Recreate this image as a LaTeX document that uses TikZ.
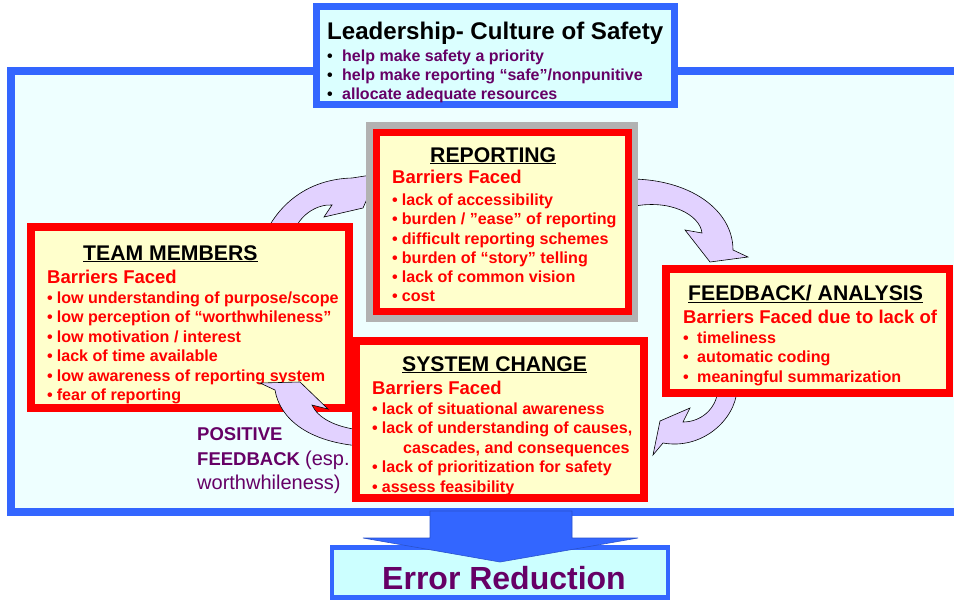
\documentclass[tikz,border=0pt]{standalone}
\usepackage{fontspec}
\setmainfont{Liberation Sans}
\definecolor{frameblue}{RGB}{51,102,255}
\definecolor{pale}{RGB}{238,255,255}
\definecolor{palecyan}{RGB}{219,255,255}
\definecolor{errfill}{RGB}{204,255,255}
\definecolor{note}{RGB}{255,255,204}
\definecolor{plum}{RGB}{102,0,102}
\definecolor{lilac}{RGB}{226,210,255}
\definecolor{shade}{RGB}{178,178,178}
\newcommand{\itm}{\textbullet\hspace{4pt}}
\newcommand{\barr}{\fontsize{18.5}{19.5}\selectfont}

\tikzset{
  barrier/.style={draw=red, line width=7.5pt, fill=note, inner sep=0pt},
  bluebox/.style={draw=frameblue, line width=7pt, fill=palecyan, inner sep=0pt},
  boxtitle/.style={anchor=base west, inner sep=0pt, font=\fontsize{21.2}{24}\selectfont\bfseries},
  boxlist/.style={anchor=north west, inner sep=0pt, align=left, text=red,
    font=\fontsize{16.1}{19.5}\selectfont\bfseries},
  cyc/.style={fill=lilac, draw=black, line width=0.6pt, line join=miter}
}

\begin{document}
\begin{tikzpicture}[x=1pt,y=-1pt]
\useasboundingbox (0,0) rectangle (954,600);

% big frame
\draw[draw=frameblue, line width=8pt, fill=pale] (11,71) rectangle (966,512);

% leadership
\node[bluebox, minimum width=358pt, minimum height=98pt] (lead) at (495.5,55.5) {};
\node[anchor=base west, inner sep=0pt, font=\fontsize{24.1}{28}\selectfont\bfseries] (leadtitle) at (327,39) {Leadership- Culture of Safety};
\node[boxlist, text=plum, font=\fontsize{16}{19}\selectfont\bfseries] (leadlist) at (327,49.3)
  {\textcolor{black}{\textbullet}\hspace{9.4pt}help make safety a priority\\
   \textcolor{black}{\textbullet}\hspace{9.4pt}help make reporting “safe”/nonpunitive\\
   \textcolor{black}{\textbullet}\hspace{9.4pt}allocate adequate resources};

% loop arrows under the boxes
\draw[cyc] (266,232) .. controls (282,200) and (312,179) .. (352,178) -- (378,174) -- (363,208)
  -- (324,217) -- (332,205) .. controls (318,204) and (300,214) .. (294,232) -- cycle;
\draw[cyc] (630,179) .. controls (690,179) and (733,210) .. (733,250) -- (748,257) -- (710,262)
  -- (685,230) -- (702,233) .. controls (700,215) and (670,198) .. (630,207) -- cycle;
\draw[cyc] (737,390) .. controls (735,420) and (702,450) .. (663,443) -- (653,455) -- (660,421)
  -- (690,408) -- (683,422) .. controls (700,422) and (716,410) .. (718,390) -- cycle;

% team members
\node[barrier, minimum width=318pt, minimum height=181pt] (team) at (190,317.5) {};
\node[boxtitle] (teamtitle) at (83,260) {\underline{TEAM MEMBERS}};
\node[boxlist] (teamlist) at (47,269.5)
  {{\barr Barriers Faced}\\[0.5pt]
   \itm low understanding of purpose/scope\\
   \itm low perception of “worthwhileness”\\
   \itm low motivation / interest\\
   \itm lack of time available\\
   \itm low awareness of reporting system\\
   \itm fear of reporting};

% reporting
\node[fill=shade, inner sep=0pt, minimum width=272pt, minimum height=200pt] (repshade) at (502,222) {};
\node[barrier, line width=7pt, minimum width=252pt, minimum height=179pt] (rep) at (502.5,221.8) {};
\node[boxtitle] (reptitle) at (430,162) {\underline{REPORTING}};
\node[boxlist, font=\fontsize{16.1}{19.2}\selectfont\bfseries] (replist) at (392,170)
  {{\barr Barriers Faced}\\[2.8pt]
   \itm lack of accessibility\\
   \itm burden / ”ease” of reporting\\
   \itm difficult reporting schemes\\
   \itm burden of “story” telling\\
   \itm lack of common vision\\
   \itm cost};

% feedback / analysis
\node[barrier, minimum width=283.5pt, minimum height=124pt] (fb) at (807.7,331) {};
\node[boxtitle] (fbtitle) at (688,300) {\underline{FEEDBACK/ ANALYSIS}};
\node[boxlist] (fblist) at (683,309.5)
  {{\barr Barriers Faced due to lack of}\\[0.5pt]
   \textbullet\hspace{8.4pt}timeliness\\
   \textbullet\hspace{8.4pt}automatic coding\\
   \textbullet\hspace{8.4pt}meaningful summarization};

% back to team members
\draw[cyc] (360,430) .. controls (335,427) and (318,418) .. (312,405) -- (328,409) -- (300,382)
  -- (260,383) -- (275,390) .. controls (280,420) and (310,442) .. (360,446) -- cycle;

% system change
\node[barrier, minimum width=288pt, minimum height=157pt] (sys) at (500,419.5) {};
\node[boxtitle] (systitle) at (402,371) {\underline{SYSTEM CHANGE}};
\node[boxlist] (syslist) at (372,380.5)
  {{\barr Barriers Faced}\\[0.5pt]
   \itm lack of situational awareness\\
   \itm lack of understanding of causes,\\
   \hspace*{31pt}cascades, and consequences\\
   \itm lack of prioritization for safety\\
   \itm assess feasibility};

\node[anchor=north west, inner sep=0pt, align=left, text=plum,
  font=\fontsize{18.5}{24.5}\selectfont\bfseries] (posfb) at (197,427.7)
  {POSITIVE\\
   FEEDBACK {\mdseries\fontsize{20}{24.5}\selectfont(esp.}\\
   {\mdseries\fontsize{20}{24.5}\selectfont worthwhileness)}};

% outcome
\node[draw=frameblue, line width=4.5pt, fill=errfill, inner sep=0pt, minimum width=336pt, minimum height=50pt] (err) at (500,572.5) {};
\draw[fill=frameblue, draw=frameblue!80!black, line width=0.6pt] (430,511) -- (572,511) -- (572,538) -- (638,538)
  -- (500,562) -- (363,538) -- (430,538) -- cycle;
\node[inner sep=0pt, text=plum, font=\fontsize{32}{36}\selectfont\bfseries] (errtxt) at (504,578.5) {Error Reduction};
\end{tikzpicture}
\end{document}
